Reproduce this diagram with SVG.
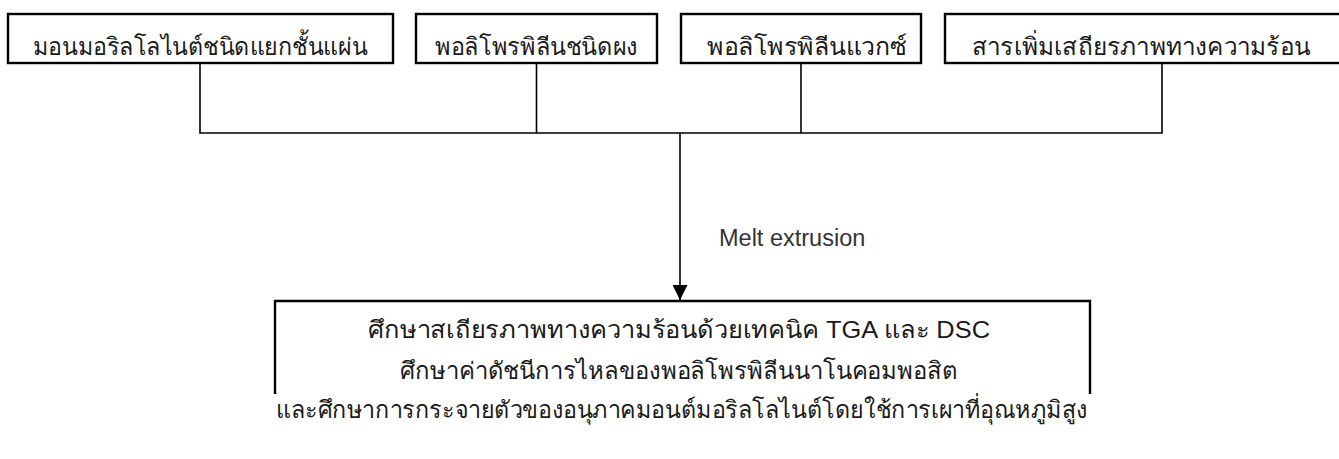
<svg xmlns="http://www.w3.org/2000/svg" width="1339" height="459" viewBox="0 0 1339 459">
<style>
.box{fill:#fff;stroke:#000;stroke-width:2.4}
.t{font-family:"Liberation Sans",sans-serif;font-size:24px;font-weight:300;fill:#1a1a1a;text-anchor:middle}
.lbl{font-family:"Liberation Sans",sans-serif;font-size:23.5px;fill:#333}
.c{fill:none;stroke:#000;stroke-width:1.6}
</style>
<defs>
<marker id="arr" markerWidth="15" markerHeight="15" refX="15" refY="7.5" orient="auto" markerUnits="userSpaceOnUse">
<path d="M0,0 L15,7.5 L0,15 Z" fill="#000"/>
</marker>
</defs>
<rect width="1339" height="459" fill="#fff"/>
<g id="connectors">
<path class="c" d="M200,63 V133 H1162 V63"/>
<path class="c" d="M536.5,63 V133"/>
<path class="c" d="M801,63 V133"/>
<path class="c" d="M680,133 V300" marker-end="url(#arr)"/>
<text class="lbl" x="719" y="246">Melt extrusion</text>
</g>
<g id="n1">
<rect class="box" x="8" y="14" width="385" height="49"/>
<text class="t" x="200" y="55" textLength="334" lengthAdjust="spacingAndGlyphs">มอนมอริลโลไนต์ชนิดแยกชั้นแผ่น</text>
</g>
<g id="n2">
<rect class="box" x="416" y="14" width="241" height="49"/>
<text class="t" x="536.5" y="55" textLength="203" lengthAdjust="spacingAndGlyphs">พอลิโพรพิลีนชนิดผง</text>
</g>
<g id="n3">
<rect class="box" x="681" y="14" width="240" height="49"/>
<text class="t" x="807" y="55" textLength="200" lengthAdjust="spacingAndGlyphs">พอลิโพรพิลีนแวกซ์</text>
</g>
<g id="n4">
<rect class="box" x="945" y="14" width="440" height="49"/>
<text class="t" x="1141" y="55" textLength="338" lengthAdjust="spacingAndGlyphs">สารเพิ่มเสถียรภาพทางความร้อน</text>
</g>
<g id="n5">
<path class="box" fill="none" d="M275,394 V301 H1090 V394"/>
<text class="t" x="679" y="338" textLength="622" lengthAdjust="spacingAndGlyphs">ศึกษาสเถียรภาพทางความร้อนด้วยเทคนิค TGA และ DSC</text>
<text class="t" x="679" y="379" textLength="558" lengthAdjust="spacingAndGlyphs">ศึกษาค่าดัชนีการไหลของพอลิโพรพิลีนนาโนคอมพอสิต</text>
<text class="t" x="682" y="418" textLength="812" lengthAdjust="spacingAndGlyphs">และศึกษาการกระจายตัวของอนุภาคมอนต์มอริลโลไนต์โดยใช้การเผาที่อุณหภูมิสูง</text>
</g>
</svg>
